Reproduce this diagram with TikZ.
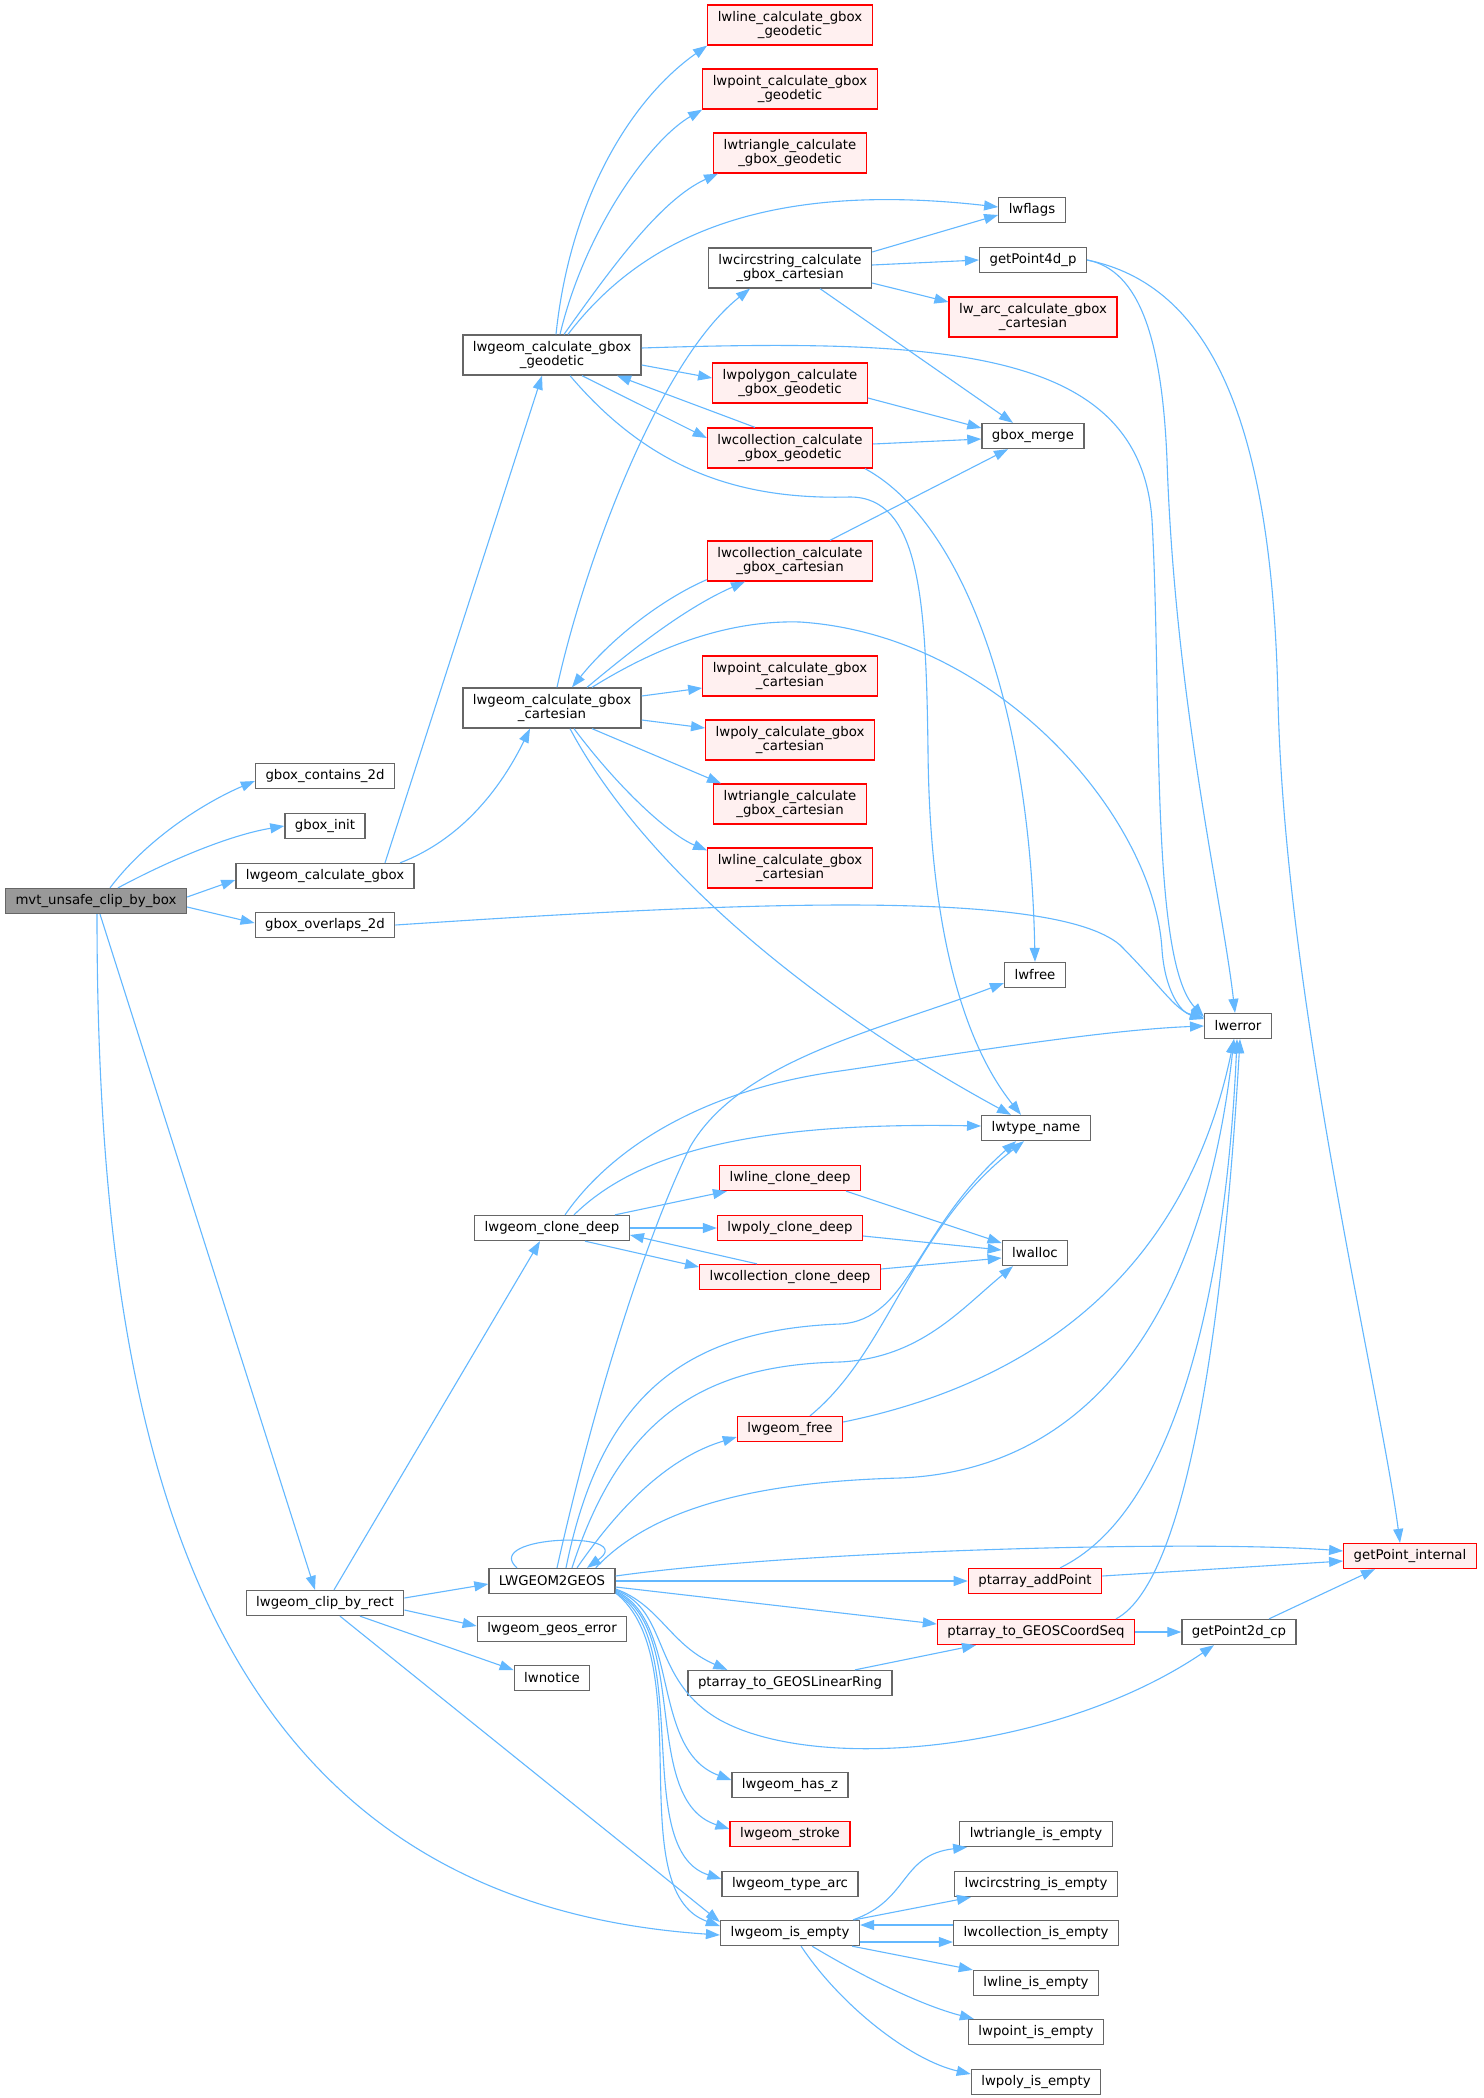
\documentclass[tikz,border=0pt]{standalone}
\usepackage{fontspec}
\usepackage{xcolor}
\usepackage{tikz}
\usetikzlibrary{arrows.meta}
\setmainfont{DejaVu Sans}
\newfontfamily\graphfont{DejaVu Sans}
\definecolor{callblue}{HTML}{63B8FF}
\definecolor{boxgray}{HTML}{666666}
\definecolor{rootgray}{HTML}{999999}
\definecolor{redfill}{HTML}{FFF0F0}
\definecolor{redline}{HTML}{FF0000}

\tikzset{
  fn/.style={draw=boxgray, fill=white, line width=1.3pt, inner xsep=10pt, inner ysep=0pt,
    minimum height=25pt, align=center, font=\graphfont\fontsize{13.3}{14.5}\selectfont},
  fnred/.style={fn, draw=redline, fill=redfill},
  fnroot/.style={fn, fill=rootgray},
  twoline/.style={minimum height=40pt},
  callarrow/.style={draw=callblue, line width=1.1pt, -{Triangle[length=14pt,width=10pt]}},
}

\begin{document}
\begin{tikzpicture}[x=1pt, y=-1pt]
  \useasboundingbox[fill=white] (0,0) rectangle (1483,2098);
  % first column
  \node[fnroot] (mvt) at (96,901) {mvt\_unsafe\_clip\_by\_box};
  \node[fn] (contains) at (325,776) {gbox\_contains\_2d};
  \node[fn] (init) at (325,826) {gbox\_init};
  \node[fn] (calcgbox) at (325,876) {lwgeom\_calculate\_gbox};
  \node[fn] (overlaps) at (325,925) {gbox\_overlaps\_2d};
  \node[fn] (clip) at (325,1603) {lwgeom\_clip\_by\_rect};
  % second column
  \node[fn, twoline] (geod) at (552,355) {lwgeom\_calculate\_gbox\\\_geodetic};
  \node[fn, twoline] (cart) at (552,708) {lwgeom\_calculate\_gbox\\\_cartesian};
  \node[fn] (clone) at (552,1228) {lwgeom\_clone\_deep};
  \node[fn] (togeos) at (552,1581) {LWGEOM2GEOS};
  \node[fn] (geoserr) at (552,1629) {lwgeom\_geos\_error};
  \node[fn] (notice) at (552,1678) {lwnotice};
  % third column
  \node[fnred, twoline] (linegeod) at (790,25) {lwline\_calculate\_gbox\\\_geodetic};
  \node[fnred, twoline] (pointgeod) at (790,89) {lwpoint\_calculate\_gbox\\\_geodetic};
  \node[fnred, twoline] (trigeod) at (790,153) {lwtriangle\_calculate\\\_gbox\_geodetic};
  \node[fn, twoline] (circcart) at (790,268) {lwcircstring\_calculate\\\_gbox\_cartesian};
  \node[fnred, twoline] (polygeod) at (790,383) {lwpolygon\_calculate\\\_gbox\_geodetic};
  \node[fnred, twoline] (collgeod) at (790,448) {lwcollection\_calculate\\\_gbox\_geodetic};
  \node[fnred, twoline] (collcart) at (790,561) {lwcollection\_calculate\\\_gbox\_cartesian};
  \node[fnred, twoline] (pointcart) at (790,676) {lwpoint\_calculate\_gbox\\\_cartesian};
  \node[fnred, twoline] (polycart) at (790,740) {lwpoly\_calculate\_gbox\\\_cartesian};
  \node[fnred, twoline] (tricart) at (790,804) {lwtriangle\_calculate\\\_gbox\_cartesian};
  \node[fnred, twoline] (linecart) at (790,868) {lwline\_calculate\_gbox\\\_cartesian};
  \node[fnred] (lineclone) at (790,1178) {lwline\_clone\_deep};
  \node[fnred] (polyclone) at (790,1228) {lwpoly\_clone\_deep};
  \node[fnred] (collclone) at (790,1277) {lwcollection\_clone\_deep};
  \node[fnred] (free) at (790,1429) {lwgeom\_free};
  \node[fn] (linring) at (790,1683) {ptarray\_to\_GEOSLinearRing};
  \node[fn] (hasz) at (790,1785) {lwgeom\_has\_z};
  \node[fnred] (stroke) at (790,1834) {lwgeom\_stroke};
  \node[fn] (typearc) at (790,1884) {lwgeom\_type\_arc};
  \node[fn] (isempty) at (790,1933) {lwgeom\_is\_empty};
  % fourth column
  \node[fn] (lwflags) at (1032,210) {lwflags};
  \node[fn] (p4d) at (1033,260) {getPoint4d\_p};
  \node[fnred, twoline] (arc) at (1033,317) {lw\_arc\_calculate\_gbox\\\_cartesian};
  \node[fn] (merge) at (1033,436) {gbox\_merge};
  \node[fn] (lwfree) at (1035,975) {lwfree};
  \node[fn] (typename) at (1036,1128) {lwtype\_name};
  \node[fn] (lwalloc) at (1035,1253) {lwalloc};
  \node[fnred] (addpt) at (1035,1581) {ptarray\_addPoint};
  \node[fnred] (coordseq) at (1036,1632) {ptarray\_to\_GEOSCoordSeq};
  \node[fn] (triempty) at (1036,1834) {lwtriangle\_is\_empty};
  \node[fn] (circempty) at (1036,1884) {lwcircstring\_is\_empty};
  \node[fn] (collempty) at (1036,1933) {lwcollection\_is\_empty};
  \node[fn] (lineempty) at (1036,1983) {lwline\_is\_empty};
  \node[fn] (pointempty) at (1036,2032) {lwpoint\_is\_empty};
  \node[fn] (polyempty) at (1036,2082) {lwpoly\_is\_empty};
  % last columns
  \node[fn] (lwerror) at (1238,1026) {lwerror};
  \node[fn] (p2d) at (1239,1632) {getPoint2d\_cp};
  \node[fnred] (ptint) at (1410,1556) {getPoint\_internal};

  % calls of mvt_unsafe_clip_by_box
  \draw[callarrow] ([xshift=14]mvt.north) .. controls (150,835) and (210,800) .. ([yshift=-5]contains.west);
  \draw[callarrow] ([xshift=22]mvt.north) .. controls (170,860) and (230,835) .. (init.west);
  \draw[callarrow] ([yshift=4]mvt.east) -- ([yshift=-4]calcgbox.west);
  \draw[callarrow] ([yshift=-6]mvt.east) -- ([yshift=2]overlaps.west);
  \draw[callarrow] ([xshift=4]mvt.south) -- ([xshift=-10]clip.north);
  \draw[callarrow] ([xshift=1]mvt.south) .. controls (97,1450) and (200,1900) .. ([yshift=-2]isempty.west);
  \draw[callarrow] ([xshift=60]calcgbox.north) -- ([xshift=-10]geod.south);
  \draw[callarrow] ([xshift=75]calcgbox.north) .. controls (460,840) and (500,790) .. ([xshift=-22]cart.south);
  \draw[callarrow] (overlaps.east) .. controls (700,905) and (1050,885) .. (1120,945)
    .. controls (1160,985) and (1175,1010) .. ([yshift=8]lwerror.west);

  % calls of lwgeom_calculate_gbox_geodetic
  \draw[callarrow] ([xshift=4]geod.north) .. controls (570,200) and (630,100) .. (linegeod.south west);
  \draw[callarrow] ([xshift=8]geod.north) .. controls (585,230) and (650,140) .. (pointgeod.south west);
  \draw[callarrow] ([xshift=12]geod.north) .. controls (610,270) and (660,200) .. ([xshift=5]trigeod.south west);
  \draw[callarrow] ([xshift=16]geod.north) .. controls (640,240) and (760,180) .. ([yshift=3]lwflags.west);
  \draw[callarrow] ([yshift=7]geod.east) .. controls (950,338) and (1140,350) .. (1152,520)
    .. controls (1162,700) and (1150,960) .. ([yshift=9]lwerror.west);
  \draw[callarrow] ([yshift=-10]geod.east) -- ([yshift=5]polygeod.west);
  \draw[callarrow] ([xshift=30]geod.south) -- ([yshift=10]collgeod.west);
  \draw[callarrow] ([xshift=18]geod.south) .. controls (650,470) and (740,500) .. (850,497)
    .. controls (920,497) and (926,600) .. (928,750)
    .. controls (930,980) and (985,1070) .. ([xshift=-15]typename.north);
  \draw[callarrow] ([xshift=-35]collgeod.north) -- ([xshift=65]geod.south);
  \draw[callarrow] ([yshift=4]collgeod.east) -- ([yshift=-3]merge.west);
  \draw[callarrow] ([xshift=75]collgeod.south) .. controls (960,520) and (1030,700) .. (lwfree.north);
  \draw[callarrow] ([yshift=-15]polygeod.east) -- ([yshift=8]merge.west);

  % calls of lwcircstring_calculate_gbox_cartesian
  \draw[callarrow] ([yshift=16]circcart.east) -- ([yshift=-5]lwflags.west);
  \draw[callarrow] ([yshift=3]circcart.east) -- (p4d.west);
  \draw[callarrow] ([yshift=-15]circcart.east) -- ([yshift=15]arc.west);
  \draw[callarrow] ([xshift=30]circcart.south) -- ([xshift=-20]merge.north);
  \draw[callarrow] (p4d.east) .. controls (1140,270) and (1162,340) .. (1167,460)
    .. controls (1175,700) and (1222,900) .. ([xshift=-3]lwerror.north);
  \draw[callarrow] (p4d.east) .. controls (1210,285) and (1272,420) .. (1278,700)
    .. controls (1285,1000) and (1380,1390) .. ([xshift=-10]ptint.north);

  % calls of lwgeom_calculate_gbox_cartesian
  \draw[callarrow] ([xshift=5]cart.north) .. controls (585,560) and (660,360) .. ([xshift=-40]circcart.south);
  \draw[callarrow] ([xshift=35]cart.north) .. controls (620,660) and (680,610) .. ([xshift=-45]collcart.south);
  \draw[callarrow] ([yshift=2]collcart.south west) .. controls (660,600) and (610,640) .. ([xshift=20]cart.north);
  \draw[callarrow] ([xshift=40]cart.north) .. controls (660,645) and (730,620) .. (800,622)
    .. controls (1000,635) and (1155,820) .. (1162,950)
    .. controls (1165,990) and (1180,1012) .. ([yshift=7]lwerror.west);
  \draw[callarrow] ([yshift=12]cart.east) -- ([yshift=-12]pointcart.west);
  \draw[callarrow] ([yshift=-12]cart.east) -- ([yshift=12]polycart.west);
  \draw[callarrow] ([xshift=40]cart.south) -- ([xshift=8]tricart.north west);
  \draw[callarrow] ([xshift=22]cart.south) .. controls (620,790) and (670,835) .. ([yshift=-3]linecart.north west);
  \draw[callarrow] ([xshift=18]cart.south) .. controls (640,860) and (800,1000) .. ([xshift=-25]typename.north);
  \draw[callarrow] ([xshift=40]collcart.north) -- ([xshift=-25]merge.south);

  % calls of lwgeom_clip_by_rect
  \draw[callarrow] ([xshift=9]clip.north) -- ([xshift=-12]clone.south);
  \draw[callarrow] ([yshift=5]clip.east) -- ([yshift=-3]togeos.west);
  \draw[callarrow] ([yshift=-7]clip.east) -- ([yshift=3]geoserr.west);
  \draw[callarrow] ([xshift=35]clip.south) -- ([yshift=8]notice.west);
  \draw[callarrow] ([xshift=15]clip.south) -- ([yshift=11]isempty.west);

  % calls of lwgeom_clone_deep
  \draw[callarrow] ([xshift=13]clone.north) .. controls (610,1150) and (700,1090) .. (840,1071)
    .. controls (950,1055) and (1100,1030) .. (lwerror.west);
  \draw[callarrow] ([xshift=22]clone.north) .. controls (640,1150) and (760,1122) .. ([yshift=2]typename.west);
  \draw[callarrow] ([xshift=-15]clone.north east) -- ([xshift=8]lineclone.south west);
  \draw[callarrow] (clone.east) -- (polyclone.west);
  \draw[callarrow] ([xshift=33]clone.south) -- ([yshift=10]collclone.west);
  \draw[callarrow] ([xshift=-33]collclone.north) -- ([yshift=-7]clone.east);
  \draw[callarrow] ([xshift=-15]lineclone.south east) -- ([yshift=10]lwalloc.west);
  \draw[callarrow] ([yshift=-8]polyclone.east) -- ([yshift=3]lwalloc.west);
  \draw[callarrow] ([yshift=8]collclone.east) -- ([yshift=-5]lwalloc.west);

  % calls of LWGEOM2GEOS
  \draw[callarrow] ([xshift=-35]togeos.north) .. controls (480,1535) and (640,1530) .. ([xshift=35]togeos.north);
  \draw[callarrow] ([xshift=5]togeos.north) .. controls (590,1420) and (640,1250) .. (690,1147)
    .. controls (740,1060) and (880,1030) .. ([yshift=-8]lwfree.west);
  \draw[callarrow] ([xshift=14]togeos.north) .. controls (600,1400) and (680,1330) .. (840,1324)
    .. controls (910,1320) and (915,1230) .. ([xshift=-20]typename.south);
  \draw[callarrow] ([xshift=20]togeos.north) .. controls (620,1420) and (700,1365) .. (840,1362)
    .. controls (920,1358) and (960,1310) .. ([xshift=-22]lwalloc.south);
  \draw[callarrow] ([xshift=25]togeos.north) .. controls (610,1520) and (660,1460) .. ([yshift=-8]free.west);
  \draw[callarrow] ([xshift=-20]togeos.north east) .. controls (650,1510) and (750,1482) .. (900,1478)
    .. controls (1100,1470) and (1205,1300) .. ([xshift=-4]lwerror.south);
  \draw[callarrow] ([yshift=5]togeos.east) .. controls (800,1550) and (1200,1540) .. ([yshift=5]ptint.west);
  \draw[callarrow] (togeos.east) -- (addpt.west);
  \draw[callarrow] ([yshift=-6]togeos.east) -- ([yshift=8]coordseq.west);
  \draw[callarrow] ([yshift=-8]togeos.east) .. controls (660,1605) and (670,1645) .. ([xshift=40]linring.north west);
  \draw[callarrow] ([yshift=-9]togeos.east) .. controls (670,1610) and (650,1680) .. (720,1720)
    .. controls (820,1775) and (1060,1750) .. ([xshift=-25]p2d.south);
  \draw[callarrow] ([yshift=-10]togeos.east) .. controls (680,1620) and (650,1750) .. ([yshift=5]hasz.west);
  \draw[callarrow] ([yshift=-11]togeos.east) .. controls (690,1630) and (640,1800) .. ([yshift=5]stroke.west);
  \draw[callarrow] ([yshift=-12]togeos.east) .. controls (695,1640) and (630,1850) .. ([yshift=5]typearc.west);
  \draw[callarrow] ([yshift=-12]togeos.east) .. controls (700,1660) and (620,1890) .. ([yshift=7]isempty.west);

  % calls of lwgeom_free and the point arrays
  \draw[callarrow] ([xshift=20]free.north) .. controls (890,1350) and (910,1230) .. ([xshift=-12]typename.south);
  \draw[callarrow] ([yshift=7]free.east) .. controls (1000,1390) and (1180,1300) .. ([xshift=-4]lwerror.south);
  \draw[callarrow] ([xshift=25]addpt.north) .. controls (1200,1500) and (1230,1200) .. ([xshift=-1]lwerror.south);
  \draw[callarrow] ([yshift=5]addpt.east) -- ([yshift=-5]ptint.west);
  \draw[callarrow] ([xshift=80]coordseq.north) .. controls (1190,1580) and (1225,1300) .. ([xshift=2]lwerror.south);
  \draw[callarrow] (coordseq.east) -- (p2d.west);
  \draw[callarrow] ([xshift=65]linring.north) -- ([xshift=-60]coordseq.south);
  \draw[callarrow] ([xshift=30]p2d.north) -- ([xshift=-35]ptint.south);

  % calls of lwgeom_is_empty
  \draw[callarrow] ([xshift=63]isempty.north) .. controls (910,1900) and (900,1855) .. ([xshift=8]triempty.south west);
  \draw[callarrow] ([xshift=-6]isempty.north east) -- ([xshift=17]circempty.south west);
  \draw[callarrow] ([yshift=-9]isempty.east) -- ([yshift=-9]collempty.west);
  \draw[callarrow] ([yshift=8]collempty.west) -- ([yshift=8]isempty.east);
  \draw[callarrow] ([xshift=-8]isempty.south east) -- (lineempty.north west);
  \draw[callarrow] ([xshift=-48]isempty.south east) .. controls (860,1975) and (920,2005) .. ([xshift=6]pointempty.north west);
  \draw[callarrow] ([xshift=-59]isempty.south east) .. controls (840,2005) and (910,2060) .. ([yshift=8]polyempty.west);
\end{tikzpicture}
\end{document}
